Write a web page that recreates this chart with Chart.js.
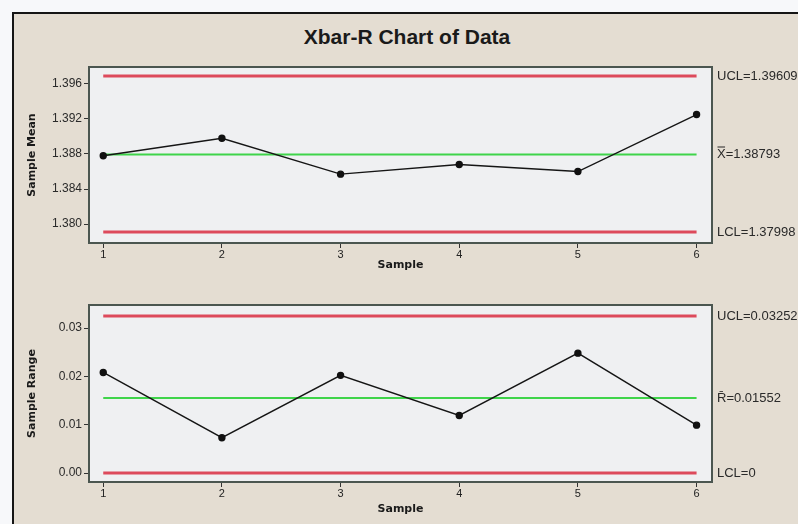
<!DOCTYPE html>
<html>
<head>
<meta charset="utf-8">
<script src="https://cdn.jsdelivr.net/npm/chart.js@4"></script>
<style>
  html, body { margin: 0; padding: 0; background: #f7f8fa; }
  #page { position: relative; width: 798px; height: 524px; overflow: hidden; }
  #frame { position: absolute; left: 12px; top: 12px; right: 0; bottom: 0;
           background: #e4ddd2; border-top: 2px solid #151515; border-left: 2px solid #151515; }
  #title { position: absolute; left: 0; width: 814px; top: 25px; text-align: center;
           font: bold 21px "Liberation Sans", Arial, sans-serif; color: #1a1a1a; }
  canvas { position: absolute; left: 0; }
</style>
</head>
<body>
<div id="page">
  <div id="frame"></div>
  <div id="title">Xbar-R Chart of Data</div>
  <canvas id="mean-chart" width="798" height="230" style="top:55px"></canvas>
  <canvas id="range-chart" width="798" height="229" style="top:295px"></canvas>
</div>
<script>
const samples = [1, 2, 3, 4, 5, 6];
const sampleMeans = [1.3878, 1.3898, 1.3857, 1.3868, 1.3860, 1.3925];
const sampleRanges = [0.0208, 0.0073, 0.0202, 0.0119, 0.0248, 0.0099];

const meanTicks = [1.380, 1.384, 1.388, 1.392, 1.396];
const rangeTicks = [0.00, 0.01, 0.02, 0.03];

// UCL, centre, LCL as drawn
const meanLimits = [1.3969, 1.38793, 1.3791];
const rangeLimits = [0.0325, 0.01552, 0];
const meanLimitLabels = ['UCL=1.39609', 'X\u033F=1.38793', 'LCL=1.37998'];
const rangeLimitLabels = ['UCL=0.03252', 'R\u0304=0.01552', 'LCL=0'];

const RED = '#dd4a5c';
const GREEN = '#3fd44a';

const limitLine = (value, color, width) => ({
    data: [{ x: samples[0], y: value }, { x: samples[samples.length - 1], y: value }],
    borderColor: color,
    borderWidth: width,
    pointRadius: 0,
    order: 2
});

const plotBox = {
    id: 'plotBox',
    beforeDraw(chart) {
        const { ctx, chartArea: a } = chart;
        ctx.save();
        ctx.fillStyle = '#eff0f2';
        ctx.fillRect(a.left, a.top, a.right - a.left, a.bottom - a.top);
        ctx.restore();
    },
    afterDraw(chart) {
        const { ctx, chartArea: a } = chart;
        ctx.save();
        ctx.strokeStyle = '#4b5650';
        ctx.lineWidth = 2;
        ctx.strokeRect(a.left, a.top, a.right - a.left, a.bottom - a.top);
        const opts = chart.options.plugins.plotBox;
        ctx.fillStyle = '#2a2a2a';
        ctx.font = '13px "Liberation Sans", Arial, sans-serif';
        ctx.textBaseline = 'middle';
        opts.values.forEach((v, i) => {
            ctx.fillText(opts.labels[i], a.right + 5, chart.scales.y.getPixelForValue(v));
        });
        ctx.restore();
    }
};

function makeChart(canvasId, values, limits, labels, ticks, yTitle, yMin, yMax, decimals, pad, xHeight) {
    const ctx = document.getElementById(canvasId).getContext('2d');
    return new Chart(ctx, {
        type: 'line',
        data: {
            datasets: [
                limitLine(limits[0], RED, 3),
                limitLine(limits[1], GREEN, 2),
                limitLine(limits[2], RED, 3),
                {
                    data: samples.map((s, i) => ({ x: s, y: values[i] })),
                    borderColor: '#151515',
                    borderWidth: 1.4,
                    pointRadius: 3,
                    pointBackgroundColor: '#111',
                    pointBorderColor: '#111',
                    order: 1
                }
            ]
        },
        options: {
            responsive: false,
            animation: false,
            layout: { padding: { left: 22, right: 86, top: pad.top, bottom: pad.bottom } },
            plugins: {
                legend: { display: false },
                tooltip: { enabled: false },
                plotBox: { values: limits, labels: labels }
            },
            scales: {
                x: {
                    type: 'linear',
                    min: 0.88,
                    max: 6.13,
                    afterBuildTicks: s => { s.ticks = samples.map(v => ({ value: v })); },
                    afterFit: s => { s.height = xHeight; },
                    grid: { drawOnChartArea: false, tickLength: 5, color: '#333', tickWidth: 1 },
                    border: { display: false },
                    ticks: { color: '#222', padding: 0, font: { size: 11, family: '"Liberation Sans", Arial' } },
                    title: { display: true, text: 'Sample', color: '#1a1a1a',
                             font: { size: 11, weight: 'bold', family: '"DejaVu Sans", sans-serif' } }
                },
                y: {
                    min: yMin,
                    max: yMax,
                    afterBuildTicks: s => { s.ticks = ticks.map(v => ({ value: v })); },
                    afterFit: s => { s.width = 67; },
                    grid: { drawOnChartArea: false, tickLength: 5, color: '#333' },
                    border: { display: false },
                    ticks: { color: '#2a2a2a', padding: 2,
                             font: { size: 12, family: '"Liberation Sans", Arial' },
                             callback: v => v.toFixed(decimals) },
                    title: { display: true, text: yTitle, color: '#1a1a1a',
                             font: { size: 11, weight: 'bold', family: '"DejaVu Sans", sans-serif' } }
                }
            }
        },
        plugins: [plotBox]
    });
}

makeChart('mean-chart', sampleMeans, meanLimits, meanLimitLabels, meanTicks,
    'Sample Mean', 1.37784, 1.39793, 3, { top: 12, bottom: 9 }, 33);
makeChart('range-chart', sampleRanges, rangeLimits, rangeLimitLabels, rangeTicks,
    'Sample Range', -0.00186, 0.03476, 2, { top: 10, bottom: 4 }, 38);
</script>
</body>
</html>
